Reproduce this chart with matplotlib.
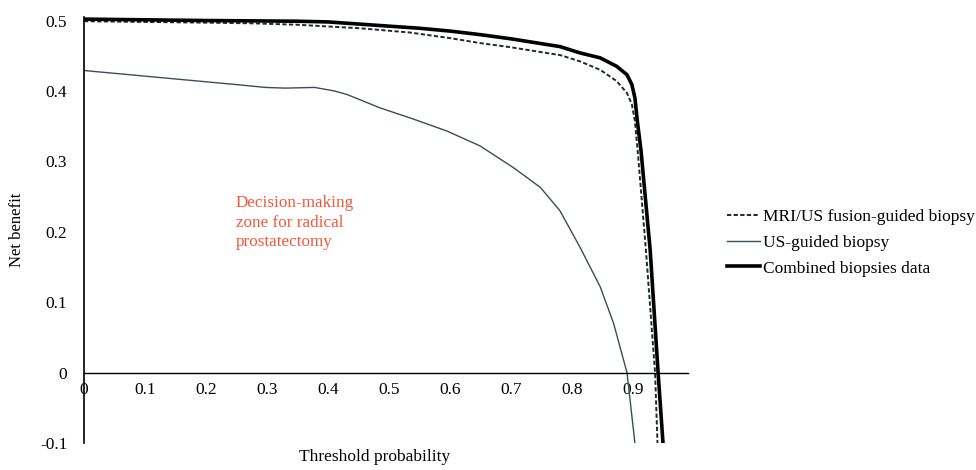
import matplotlib
matplotlib.use('Agg')
import matplotlib.pyplot as plt

plt.rcParams['font.family'] = ['Liberation Serif', 'DejaVu Serif']

# threshold probability / net benefit
fusion_x = [0.0, 0.1, 0.2, 0.277, 0.35, 0.452, 0.534, 0.6, 0.649, 0.70, 0.75,
            0.78, 0.813, 0.846, 0.873, 0.890, 0.898, 0.903, 0.908, 0.921, 0.936, 0.940]
fusion_y = [0.499, 0.498, 0.497, 0.496, 0.494, 0.489, 0.483, 0.475, 0.468, 0.462, 0.455,
            0.451, 0.442, 0.430, 0.414, 0.397, 0.381, 0.357, 0.310, 0.174, 0.0, -0.1]

us_x = [0.0, 0.15, 0.25, 0.297, 0.33, 0.378, 0.41, 0.431, 0.485, 0.540, 0.595,
        0.649, 0.704, 0.748, 0.780, 0.813, 0.846, 0.868, 0.890, 0.903]
us_y = [0.429, 0.417, 0.409, 0.405, 0.404, 0.405, 0.400, 0.395, 0.376, 0.360, 0.343,
        0.322, 0.291, 0.263, 0.230, 0.178, 0.122, 0.070, 0.0, -0.1]

comb_x = [0.0, 0.2, 0.35, 0.4, 0.45, 0.5, 0.55, 0.6, 0.649, 0.70, 0.758, 0.78,
          0.813, 0.846, 0.873, 0.890, 0.898, 0.903, 0.907, 0.913, 0.928, 0.941, 0.949]
comb_y = [0.502, 0.500, 0.499, 0.498, 0.495, 0.492, 0.489, 0.485, 0.480, 0.474, 0.466, 0.463,
          0.454, 0.447, 0.435, 0.423, 0.409, 0.390, 0.357, 0.315, 0.174, 0.0, -0.1]

xticks = [0, 0.1, 0.2, 0.3, 0.4, 0.5, 0.6, 0.7, 0.8, 0.9]
xticklabels = ['0', '0.1', '0.2', '0.3', '0.4', '0.5', '0.6', '0.7', '0.8', '0.9']
yticks = [-0.1, 0, 0.1, 0.2, 0.3, 0.4, 0.5]
yticklabels = ['-0.1', '0', '0.1', '0.2', '0.3', '0.4', '0.5']

fig = plt.figure(figsize=(9.76, 4.70), dpi=100)
ax = fig.add_axes([84 / 976, 1 - 443 / 470, 604 / 976, 426 / 470])

ax.plot(fusion_x, fusion_y, color='#1e2a30', lw=1.4, ls=(0, (2.2, 1.2)),
        dash_joinstyle='round', label='MRI/US fusion-guided biopsy')
ax.plot(us_x, us_y, color='#3c4d55', lw=1.0, solid_joinstyle='round',
        label='US-guided biopsy')
ax.plot(comb_x, comb_y, color='#000000', lw=2.6, solid_joinstyle='round',
        label='Combined biopsies data')

ax.set_xlim(0, 0.99)
ax.set_ylim(-0.1, 0.505)
ax.spines['top'].set_visible(False)
ax.spines['right'].set_visible(False)
ax.spines['bottom'].set_position(('data', 0))
ax.spines['left'].set_bounds(-0.1, 0.505)
ax.spines['left'].set_linewidth(1.2)
ax.spines['bottom'].set_linewidth(1.0)

ax.set_xticks(xticks)
ax.set_xticklabels(xticklabels)
ax.set_yticks(yticks)
ax.set_yticklabels(yticklabels)
ax.tick_params(axis='x', length=0, pad=7, labelsize=12.5)
ax.tick_params(axis='y', length=0, pad=12, labelsize=12.5)

ax.text(0.249, 0.252, 'Decision-making\nzone for radical\nprostatectomy',
        color='#f0583c', fontsize=12.3, va='top', ha='left', linespacing=1.3)

fig.text(17 / 976, 1 - 230 / 470, 'Net benefit', rotation=90,
         ha='center', va='center', fontsize=12)
fig.text(375 / 976, 1 - 457 / 470, 'Threshold probability',
         ha='center', va='center', fontsize=12.5)

fig.legend(loc='upper left', bbox_to_anchor=(720 / 976, 1 - 202 / 470),
           frameon=False, fontsize=12.5, handlelength=1.9, handletextpad=0.15,
           labelspacing=0.55, borderaxespad=0)

fig.savefig('out.png', dpi=100)
